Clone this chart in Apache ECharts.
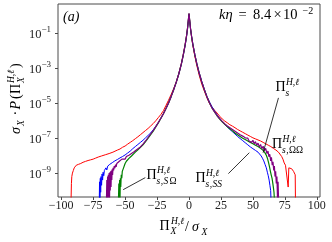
<!DOCTYPE html>
<html><head><meta charset="utf-8">
<script src="https://cdn.jsdelivr.net/npm/echarts@6/dist/echarts.min.js"></script>
<style>html,body{margin:0;padding:0;background:#fff}#c{width:332px;height:242px}</style>
</head><body><div id="c"></div>
<script>
const redX = [-92.3,-92.0,-91.7,-91.2,-90.5,-89.8,-89,-88.2,-87.4,-86.5,-85.6,-84.7,-83.8,-82.9,-82,-81,-80,-79,-78,-77,-76,-75,-74,-73,-72,-71,-70,-68.5,-67,-65.5,-64,-62.5,-61,-59.5,-58,-56,-54,-52,-50,-48,-46,-44,-42,-40,-38,-36,-34,-32,-30,-28,-26,-24,-22,-20,-18,-16,-14,-12,-10,-8,-6,-4.5,-3,-2,-1.2,-0.6,0,0.6,1.2,2,3,4.5,6,8,10,12,14,16,18,20,22,24,26,28,30,32,34,36,38,40,42,44,46,48,50,52,54,56,58,60,62,64,66,68,70,71.5,72.5,73.5,74.5,75.5,76.3,77,77.6,78.1,78.8,79.5,80.3,81,81.8,82.6,83.1,83.3];
const redLog = [-10.6,-9.6,-9.2,-9.0,-8.85,-8.7,-8.75,-8.55,-8.62,-8.5,-8.58,-8.45,-8.52,-8.38,-8.46,-8.33,-8.4,-8.28,-8.36,-8.24,-8.3,-8.2,-8.26,-8.14,-8.2,-8.08,-8.12,-8.02,-8.06,-7.95,-7.98,-7.88,-7.9,-7.8,-7.8,-7.68,-7.62,-7.52,-7.45,-7.34,-7.24,-7.14,-7.03,-6.92,-6.8,-6.68,-6.56,-6.44,-6.3,-6.16,-6.0,-5.82,-5.64,-5.42,-5.12,-4.82,-4.5,-4.16,-3.78,-3.3,-2.72,-2.2,-1.62,-1.15,-0.72,-0.3,0.12,-0.3,-0.72,-1.18,-1.68,-2.28,-2.8,-3.4,-3.9,-4.3,-4.68,-5.0,-5.22,-5.4,-5.56,-5.74,-5.9,-6.02,-6.12,-6.23,-6.31,-6.4,-6.5,-6.58,-6.66,-6.74,-6.82,-6.9,-6.98,-7.04,-7.1,-7.16,-7.24,-7.32,-7.4,-7.48,-7.58,-7.68,-7.8,-7.9,-8.05,-8.2,-8.42,-8.55,-8.45,-8.6,-9.8,-8.7,-8.6,-8.7,-8.75,-8.8,-8.9,-9.0,-9.1,-10.6];

const blueX = [-70.2,-70,-69.7,-69.4,-69.1,-68.8,-68.4,-68,-67.6,-67.2,-66.7,-66.2,-65.6,-65,-64.3,-63.6,-62.8,-62,-61,-60,-59,-58,-57,-56,-55,-54,-52,-50,-48,-46,-44,-42,-40,-38,-36,-34,-32,-30,-28,-26,-24,-22,-20,-18,-16,-14,-12,-10,-8,-6,-4.5,-3,-2,-1.2,-0.6,0,0.6,1.2,2,3,4.5,6,8,10,12,14,16,18,20,22,24,26,28,30,32,34,36,38,40,42,44,46,48,50,52,54,55.5,56.5,57.5,58.5,59.5,60.5,61.3,62,62.7,63.3,63.9,64.2];
const blueLog = [-10.6,-9.5,-10.6,-9.3,-10.1,-9.2,-9.7,-9.05,-9.4,-8.95,-9.15,-8.85,-8.95,-8.7,-8.82,-8.6,-8.66,-8.5,-8.52,-8.4,-8.42,-8.3,-8.3,-8.22,-8.2,-8.13,-8.05,-7.96,-7.85,-7.74,-7.6,-7.48,-7.36,-7.24,-7.12,-6.98,-6.84,-6.7,-6.52,-6.32,-6.1,-5.86,-5.58,-5.3,-4.98,-4.62,-4.22,-3.8,-3.32,-2.76,-2.25,-1.66,-1.2,-0.75,-0.32,0.1,-0.32,-0.74,-1.15,-1.6,-2.18,-2.68,-3.26,-3.75,-4.2,-4.6,-4.92,-5.2,-5.44,-5.66,-5.86,-6.04,-6.2,-6.36,-6.5,-6.63,-6.76,-6.9,-7.02,-7.14,-7.26,-7.38,-7.5,-7.6,-7.7,-7.8,-7.9,-8.02,-8.15,-8.3,-8.5,-8.7,-8.95,-9.15,-9.4,-9.7,-10.0,-10.6];

const greenX = [-55.2,-54.9,-54.6,-54.3,-54.0,-53.7,-53.4,-53.0,-52.6,-52.2,-51.7,-51.2,-50.6,-50,-49,-48,-47,-46,-45,-44,-42,-40,-38,-36,-34,-32,-30,-28,-26,-24,-22,-20,-18,-16,-14,-12,-10,-8,-6,-4.5,-3,-2,-1.2,-0.6,0,0.6,1.2,2,3,4.5,6,8,10,12,14,16,18,20,22,24,26,28,30,32,34,36,38,40,42,44,46,48,50,52,54,56,58,59.5,60.5,61.5,62.3,63,63.7,64.3,65,65.5,66,66.5,66.9];
const greenLog = [-10.6,-9.6,-10.6,-9.4,-10.6,-9.3,-9.8,-9.1,-9.3,-8.9,-8.95,-8.7,-8.65,-8.45,-8.32,-8.24,-8.16,-8.08,-8.02,-7.94,-7.8,-7.66,-7.52,-7.38,-7.2,-7.0,-6.8,-6.6,-6.36,-6.12,-5.86,-5.6,-5.3,-4.98,-4.62,-4.22,-3.8,-3.32,-2.76,-2.24,-1.65,-1.18,-0.74,-0.3,0.14,-0.3,-0.73,-1.16,-1.62,-2.2,-2.7,-3.28,-3.78,-4.22,-4.62,-4.97,-5.27,-5.5,-5.72,-5.9,-6.06,-6.2,-6.34,-6.46,-6.58,-6.7,-6.8,-6.9,-7.0,-7.08,-7.16,-7.24,-7.32,-7.4,-7.48,-7.58,-7.7,-7.84,-7.98,-8.18,-8.42,-8.65,-8.9,-9.1,-9.3,-9.55,-9.8,-10.1,-10.6];

const purpleX = [-64.6,-64.3,-64.0,-63.7,-63.4,-63.1,-62.8,-62.5,-62.2,-61.9,-61.6,-61.3,-61.0,-60.7,-60.4,-60.1,-59.8,-59.4,-59,-58.5,-58,-57.5,-57,-56.5,-56,-55.5,-55,-54.5,-54,-53.5,-53,-52.5,-52,-51,-50,-49,-48,-47,-46,-45,-44,-43,-42,-41,-40,-38,-36,-34,-32,-30,-28,-26,-24,-22,-20,-18,-16,-14,-12,-10,-8,-6,-4.5,-3,-2,-1.2,-0.6,0,0.6,1.2,2,3,4.5,6,8,10,12,14,16,18,20,22,24,26,28,30,32,34,36,38,40,42,44,45,46,47,48,49,50,51,52,53,54,55,56,57,58,59,60,61,61.8,62.5,63.2,63.9,64.5,65.1,65.7,66.3,66.8,67.3,67.8,68.3,68.8,69.3,69.7,70.1];
const purpleLog = [-10.6,-9.4,-10.6,-9.2,-10.6,-9.1,-10.4,-9.0,-10.6,-8.95,-10.0,-8.9,-9.8,-8.85,-9.4,-8.78,-9.1,-8.7,-8.85,-8.6,-8.72,-8.52,-8.64,-8.45,-8.56,-8.38,-8.5,-8.32,-8.42,-8.25,-8.36,-8.2,-8.3,-8.15,-8.2,-8.05,-8.12,-7.98,-8.02,-7.88,-7.92,-7.78,-7.8,-7.66,-7.66,-7.5,-7.34,-7.16,-6.96,-6.76,-6.56,-6.34,-6.1,-5.86,-5.6,-5.3,-4.98,-4.62,-4.22,-3.8,-3.32,-2.76,-2.24,-1.65,-1.18,-0.74,-0.3,0.15,-0.3,-0.73,-1.16,-1.62,-2.2,-2.7,-3.28,-3.78,-4.22,-4.62,-4.97,-5.27,-5.5,-5.7,-5.88,-6.04,-6.18,-6.3,-6.4,-6.5,-6.6,-6.7,-6.8,-6.88,-6.98,-7.08,-7.0,-7.16,-7.06,-7.24,-7.12,-7.32,-7.2,-7.4,-7.28,-7.5,-7.36,-7.6,-7.46,-7.72,-7.58,-7.88,-7.74,-8.06,-7.92,-8.3,-8.1,-8.55,-8.35,-8.85,-8.6,-9.2,-8.9,-9.6,-9.2,-10.6,-9.5,-10.6];

const xTicks = [-100,-75,-50,-25,0,25,50,75,100];
const yTickExps = [-9,-7,-5,-3,-1];

const FONT = '"Liberation Serif", "DejaVu Serif", serif';
const AX = '#4a4a4a';
const zip = (xs, ys) => xs.map((x, i) => [x, ys[i]]);
const minus = v => (v < 0 ? '\u2212' + (-v) : String(v));

const chart = echarts.init(document.getElementById('c'), null, {renderer: 'canvas'});
const line = (name, xs, ys, color, w) => ({
  name, type: 'line', data: zip(xs, ys), showSymbol: false, symbol: 'none',
  lineStyle: {color, width: w}, clip: true, animation: false
});

chart.setOption({
  animation: false,
  grid: {left: 58, right: 12, top: 4, bottom: 45, show: true, borderColor: AX, borderWidth: 1, backgroundColor: 'transparent'},
  xAxis: {
    type: 'value', min: -102.5, max: 102.5, position: 'bottom',
    splitLine: {show: false}, axisLine: {show: false, onZero: false},
    axisTick: {show: true, inside: false, length: 3, customValues: xTicks, lineStyle: {color: AX}},
    axisLabel: {customValues: xTicks, formatter: v => minus(v), margin: 3, fontFamily: FONT, fontSize: 12, color: '#222'}
  },
  yAxis: {
    type: 'value', min: -10.37, max: 0.69, position: 'left',
    splitLine: {show: false}, axisLine: {show: false, onZero: false},
    axisTick: {show: true, inside: false, length: 3, customValues: yTickExps, lineStyle: {color: AX}},
    axisLabel: {
      customValues: yTickExps, margin: 7,
      formatter: v => '{b|10}{s|' + minus(v) + '}',
      rich: {
        b: {fontFamily: FONT, fontSize: 12.5, color: '#222', lineHeight: 16, verticalAlign: 'bottom'},
        s: {fontFamily: FONT, fontSize: 9, color: '#222', lineHeight: 8, verticalAlign: 'top'}
      }
    }
  },
  series: [
    line('red', redX, redLog, '#ff0000', 1),
    line('blue', blueX, blueLog, '#0000ff', 1),
    line('green', greenX, greenLog, '#008000', 1.2),
    line('purple', purpleX, purpleLog, '#800080', 1.2)
  ]
});

const P = (x, y) => chart.convertToPixel({gridIndex: 0}, [x, y]);
function txt(text, x, base, size, italic, align) {
  return {type: 'text', x: x, y: base - 0.34 * size, silent: true, z: 100,
    style: {text, x: 0, y: 0, fill: '#000', align: align || 'left', verticalAlign: 'middle',
      font: (italic ? 'italic ' : '') + size + 'px ' + FONT}};
}
function piLabel(x, base, parts) {
  const els = [];
  els.push(txt('\u03A0', x, base, 14, false));
  els.push(txt('H,\u2113', x + 10.5, base - 6.5, 9.5, true));
  let cx = x + 10;
  parts.forEach(p => { els.push(txt(p[0], cx, base + 4.5, 9.5, p[1])); cx += p[2]; });
  return els;
}
const g = [];
g.push(txt('(a)', 63, 22, 14, true));
g.push(txt('k\u03B7', 219, 20.5, 14.5, true));
g.push(txt('=', 238.5, 20.5, 14.5, false));
g.push(txt('8.4', 253, 20.5, 14.5, false));
g.push(txt('\u00D7', 273.5, 20.5, 14.5, false));
g.push(txt('10', 283, 20.5, 14.5, false));
g.push(txt('\u22122', 302.5, 14.5, 10, false));

g.push(...piLabel(275.5, 92, [['s', true, 5]]));
g.push(...piLabel(272, 149, [['s', true, 4.2], [',', false, 2.8], ['\u03A9\u03A9', false, 14]]));
g.push(...piLabel(195.5, 183, [['s', true, 4.2], [',', false, 2.8], ['SS', true, 14]]));
g.push(...piLabel(146.5, 180, [['s', true, 4.2], [',', false, 2.8], ['S', true, 6], ['\u03A9', false, 8]]));

const leaders = [
  [[70.0, -4.69], [58.0, -7.83]],
  [[30.8, -9.03], [47.2, -7.83]],
  [[-34.2, -9.26], [-51.5, -9.95]]
];
leaders.forEach(l => {
  const a = P(l[0][0], l[0][1]), b = P(l[1][0], l[1][1]);
  g.push({type: 'line', z: 100, silent: true, shape: {x1: a[0], y1: a[1], x2: b[0], y2: b[1]}, style: {stroke: '#000', lineWidth: 0.8}});
});

g.push(txt('\u03A0', 159.5, 231.5, 14, false));
g.push(txt('H,\u2113', 171, 224.5, 9.5, true));
g.push(txt('X', 170.5, 235, 9.5, true));
g.push(txt('/', 185, 232, 14, false));
g.push(txt('\u03C3', 192, 232, 14, true));
g.push(txt('X', 201.5, 235.5, 9.5, true));

const yt = [];
function ltxt(text, lx, lbase, size, italic) {
  return {type: 'text', x: lx, y: lbase - 0.34 * size, silent: true,
    style: {text, x: 0, y: 0, fill: '#000', align: 'left', verticalAlign: 'middle',
      font: (italic ? 'italic ' : '') + size + 'px ' + FONT}};
}
yt.push(ltxt('\u03C3', 0, 0, 14, true));
yt.push(ltxt('X', 8, 3, 9.5, true));
yt.push(ltxt('\u00B7', 18.5, 0, 14, false));
yt.push(ltxt('P', 24.5, 0, 14, true));
yt.push(ltxt('(', 35, 0, 14, false));
yt.push(ltxt('\u03A0', 40, 0, 14, false));
yt.push(ltxt('H,\u2113', 51, -6.5, 9.5, true));
yt.push(ltxt('X', 51, 3.5, 9.5, true));
yt.push(ltxt(')', 66, 0, 14, false));
g.push({type: 'group', x: 21.5, y: 134, rotation: Math.PI / 2, z: 100, children: yt});

chart.setOption({graphic: g});
</script></body></html>
